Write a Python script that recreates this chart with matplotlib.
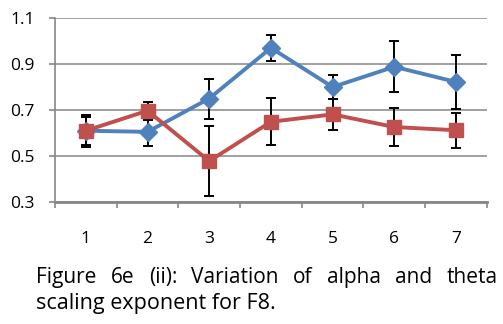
import matplotlib.pyplot as plt
import numpy as np

# DATA
groups = [1, 2, 3, 4, 5, 6, 7]
alpha = [0.61, 0.605, 0.75, 0.97, 0.80, 0.888, 0.822]
alpha_err = [0.06, 0.06, 0.087, 0.058, 0.053, 0.11, 0.118]
theta = [0.61, 0.697, 0.478, 0.649, 0.681, 0.626, 0.612]
theta_err = [0.07, 0.04, 0.153, 0.102, 0.068, 0.083, 0.077]
yticks = [0.3, 0.5, 0.7, 0.9, 1.1]
caption_1 = "Figure 6e (ii): Variation of alpha and theta"
caption_2 = "scaling exponent for F8."

BLUE = "#4F81BD"
RED = "#C0504D"
GRAY = "#868686"

plt.rcParams['font.family'] = ['Open Sans', 'DejaVu Sans']

fig = plt.figure(figsize=(5.03, 3.24), dpi=100)
ax = fig.add_axes([0.1093, 0.3765, 0.8587, 0.5679])

x = np.array(groups)
ax.errorbar(x, alpha, yerr=alpha_err, fmt='none', ecolor='black',
            elinewidth=1.4, capsize=3.5, capthick=1.4, zorder=3)
ax.errorbar(x, theta, yerr=theta_err, fmt='none', ecolor='black',
            elinewidth=1.4, capsize=3.5, capthick=1.4, zorder=3)
ax.plot(x, alpha, color=BLUE, lw=2.8, marker='D', ms=9, zorder=4)
ax.plot(x, theta, color=RED, lw=2.8, marker='s', ms=10.5, zorder=5)

ax.set_xlim(0.5, 7.5)
ax.set_ylim(0.3, 1.1)
ax.set_yticks(yticks)
ax.set_yticklabels([f"{v:.1f}" for v in yticks])
ax.set_xticks(groups)
ax.set_xticklabels([str(g) for g in groups])
ax.set_xticks(np.arange(0.5, 8, 1), minor=True)
ax.tick_params(axis='x', which='major', length=0, pad=21, labelsize=12.5)
ax.tick_params(axis='x', which='minor', length=4, width=1.2, color=GRAY)
ax.tick_params(axis='y', length=4.5, width=1.2, color=GRAY, labelsize=12.5, pad=10)

ax.yaxis.grid(True, color=GRAY, lw=1.1)
ax.set_axisbelow(True)
for s in ['top', 'right']:
    ax.spines[s].set_visible(False)
ax.spines['left'].set_color(GRAY)
ax.spines['left'].set_linewidth(1.2)
ax.spines['bottom'].set_color(GRAY)
ax.spines['bottom'].set_linewidth(2)

# caption: first line is justified across the width, as in the source document
W = fig.get_figwidth() * fig.dpi
x0, x1 = 36, 498
words = caption_1.split()
texts = [fig.text(0, 0.1265, w, fontsize=15, va='baseline') for w in words]
fig.canvas.draw()
r = fig.canvas.get_renderer()
widths = [t.get_window_extent(r).width for t in texts]
gap = (x1 - x0 - sum(widths)) / (len(words) - 1)
pos = x0
for t, w in zip(texts, widths):
    t.set_x(pos / W)
    pos += w + gap
fig.text(x0 / W, 0.0463, caption_2, fontsize=15.5, va='baseline')

fig.savefig("out.png", dpi=100)
